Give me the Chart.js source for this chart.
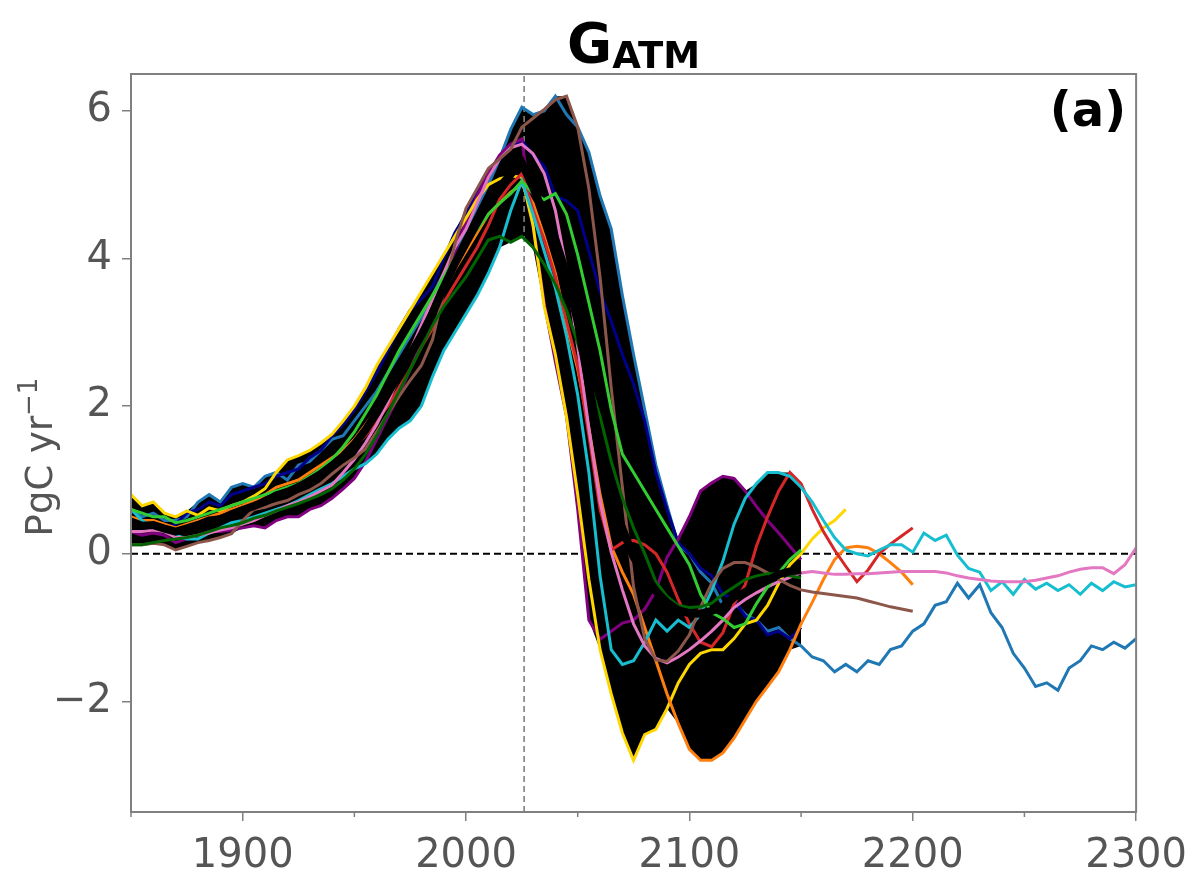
<!DOCTYPE html>
<html>
<head>
<meta charset="utf-8">
<script src="https://cdn.jsdelivr.net/npm/chart.js@4.4.1/dist/chart.umd.min.js"></script>
<style>
  html, body { margin: 0; padding: 0; background: #fff; }
  canvas { display: block; }
</style>
</head>
<body>
<canvas id="chart" width="1199" height="886"></canvas>
<script>
// years every 5 yr, 1850-2300
const years = [
  1850, 1855, 1860, 1865, 1870, 1875, 1880, 1885, 1890, 1895,
  1900, 1905, 1910, 1915, 1920, 1925, 1930, 1935, 1940, 1945,
  1950, 1955, 1960, 1965, 1970, 1975, 1980, 1985, 1990, 1995,
  2000, 2005, 2010, 2015, 2020, 2025, 2030, 2035, 2040, 2045,
  2050, 2055, 2060, 2065, 2070, 2075, 2080, 2085, 2090, 2095,
  2100, 2105, 2110, 2115, 2120, 2125, 2130, 2135, 2140, 2145,
  2150, 2155, 2160, 2165, 2170, 2175, 2180, 2185, 2190, 2195,
  2200, 2205, 2210, 2215, 2220, 2225, 2230, 2235, 2240, 2245,
  2250, 2255, 2260, 2265, 2270, 2275, 2280, 2285, 2290, 2295,
  2300
];

// PgC/yr
const blueVals = [
  0.6, 0.5, 0.55, 0.45, 0.45, 0.5, 0.7, 0.8, 0.7, 0.9,
  0.95, 0.9, 1.05, 1.1, 1.0, 1.2, 1.25, 1.4, 1.55, 1.6,
  1.8, 2.0, 2.2, 2.45, 2.7, 2.95, 3.2, 3.5, 3.8, 4.1,
  4.4, 4.7, 5.0, 5.35, 5.75, 6.05, 5.95, 6.0, 6.2, 5.95,
  5.78, 5.44, 4.85, 4.4, 3.5, 2.7, 1.95, 1.2, 0.65, 0.12,
  0.0, -0.25, -0.4, -0.7, -0.65, -0.82, -0.9, -1.05, -1.0, -1.15,
  -1.25, -1.4, -1.45, -1.6, -1.5, -1.6, -1.45, -1.5, -1.3, -1.25,
  -1.05, -0.95, -0.7, -0.65, -0.4, -0.6, -0.42, -0.8, -1.0, -1.35,
  -1.55, -1.8, -1.75, -1.85, -1.55, -1.45, -1.25, -1.3, -1.2, -1.28,
  -1.15
];
const navyVals = [
  0.45, 0.4, 0.42, 0.35, 0.4, 0.55, 0.6, 0.7, 0.65, 0.8,
  0.85, 0.9, 0.95, 1.05, 1.1, 1.15, 1.3, 1.4, 1.6, 1.75,
  1.95, 2.2, 2.45, 2.75, 3.05, 3.3, 3.45, 3.62, 4.0, 4.35,
  4.6, 4.9, 5.15, 5.35, 5.5, 5.6, 5.4, 5.25, 4.85, 4.78,
  4.65, 4.1, 3.55, 3.15, 2.7, 2.3, 1.8, 1.1, 0.6, 0.15,
  0.0, -0.2, -0.3, -0.55, -0.62, -0.85, -0.9, -1.1, -1.05, -1.15,
  -1.0
];
const purpleVals = [
  0.3, 0.25, 0.28, 0.25, 0.15, 0.2, 0.25, 0.3, 0.3, 0.32,
  0.35, 0.38, 0.35, 0.45, 0.5, 0.5, 0.6, 0.65, 0.75, 0.88,
  1.02, 1.25, 1.55, 1.85, 2.15, 2.5, 2.85, 3.25, 3.7, 4.1,
  4.5, 4.85, 5.15, 5.4, 5.55, 5.62, 4.45, 3.4, 2.6, 1.86,
  0.6, -0.9, -1.16, -1.05, -0.94, -0.9, -0.75, -0.5, -0.05, 0.2,
  0.5, 0.85, 0.96, 1.05, 1.02, 0.85, 0.64, 0.45, 0.28, 0.1,
  -0.08
];
const goldVals = [
  0.8, 0.65, 0.7, 0.55, 0.5, 0.58, 0.52, 0.62, 0.58, 0.65,
  0.7, 0.78, 0.88, 1.1, 1.27, 1.33, 1.4, 1.5, 1.62, 1.8,
  2.0, 2.25, 2.55, 2.8, 3.05, 3.3, 3.55, 3.8, 4.05, 4.3,
  4.55, 4.8, 5.0, 5.08, 5.12, 5.1, 4.45, 3.35, 2.7, 1.85,
  0.8, -0.35, -1.3, -1.9, -2.43, -2.8, -2.45, -2.38, -2.1, -1.75,
  -1.5, -1.35, -1.3, -1.3, -1.15, -0.95, -0.9, -0.7, -0.4, -0.15,
  0.0, 0.2, 0.35, 0.45, 0.6
];
const orangeVals = [
  0.5, 0.45, 0.45, 0.4, 0.35, 0.4, 0.45, 0.5, 0.55, 0.6,
  0.65, 0.72, 0.8, 0.9, 0.95, 1.0, 1.1, 1.2, 1.3, 1.4,
  1.55, 1.75, 1.95, 2.2, 2.45, 2.7, 3.0, 3.25, 3.55, 3.85,
  4.1, 4.35, 4.6, 4.75, 4.9, 5.0, 4.75, 4.3, 3.8, 3.1,
  2.5, 1.7, 0.8, 0.1, -0.25, -0.55, -1.0, -1.45, -1.9, -2.3,
  -2.65, -2.8, -2.8, -2.7, -2.5, -2.25, -2.0, -1.8, -1.6, -1.3,
  -0.95, -0.66, -0.35, -0.08, 0.08, 0.1, 0.08, 0.0, -0.12, -0.25,
  -0.42
];
const redVals = [
  0.4, 0.38, 0.4, 0.35, 0.3, 0.35, 0.42, 0.45, 0.5, 0.55,
  0.6, 0.65, 0.7, 0.78, 0.85, 0.92, 1.0, 1.1, 1.2, 1.3,
  1.45, 1.6, 1.8, 2.0, 2.25, 2.5, 2.8, 3.05, 3.4, 3.65,
  3.9, 4.15, 4.45, 4.8, 5.0, 5.15, 4.66, 4.25, 3.75, 3.15,
  2.55, 1.6, 0.6, 0.05, 0.15, 0.18, 0.12, 0.0, -0.25, -0.62,
  -0.95, -1.2, -1.26, -1.07, -0.68, -0.42, 0.1, 0.5, 0.85, 1.1,
  0.95, 0.6, 0.3, 0.05, -0.17, -0.38, -0.22, 0.0, 0.13, 0.24,
  0.35
];
const cyanVals = [
  0.6, 0.45, 0.35, 0.3, 0.25, 0.2, 0.2, 0.28, 0.35, 0.42,
  0.45, 0.5, 0.55, 0.6, 0.65, 0.72, 0.8, 0.88, 0.95, 1.05,
  1.15, 1.22, 1.35, 1.55, 1.7, 1.8, 2.0, 2.4, 2.75, 3.0,
  3.25, 3.5, 3.8, 4.15, 4.65, 5.05, 4.6, 4.1, 3.6, 2.95,
  2.15, 1.1, -0.3, -1.3, -1.5, -1.45, -1.2, -0.9, -1.05, -0.9,
  -1.0, -0.82, -0.5, -0.1, 0.4, 0.75, 0.95, 1.1, 1.1, 1.05,
  0.9, 0.7, 0.45, 0.22, 0.05, 0.0, -0.03, 0.05, 0.12, 0.12,
  0.02, 0.28, 0.18, 0.25, -0.02, -0.2, -0.25, -0.5, -0.38, -0.55,
  -0.35, -0.48, -0.4, -0.5, -0.42, -0.55, -0.4, -0.5, -0.38, -0.45,
  -0.42
];
const pinkVals = [
  0.3, 0.3, 0.32, 0.3, 0.22, 0.22, 0.25, 0.28, 0.32, 0.35,
  0.4, 0.45, 0.52, 0.58, 0.65, 0.7, 0.77, 0.85, 0.93, 1.1,
  1.28, 1.5, 1.75, 2.05, 2.4, 2.75, 3.1, 3.45, 3.8, 4.15,
  4.4, 4.75, 5.1, 5.35, 5.5, 5.55, 5.42, 5.15, 4.65, 3.85,
  2.8, 1.7, 0.7, 0.02, -0.49, -0.95, -1.25, -1.42, -1.48, -1.4,
  -1.3, -1.18, -1.05, -0.9, -0.73, -0.62, -0.53, -0.45, -0.38, -0.32,
  -0.26, -0.24, -0.26, -0.28, -0.28, -0.27, -0.27, -0.26, -0.25, -0.24,
  -0.24, -0.24, -0.24, -0.26, -0.3, -0.33, -0.35, -0.37, -0.38, -0.38,
  -0.38, -0.36, -0.33, -0.3, -0.25, -0.21, -0.19, -0.19, -0.27, -0.15,
  0.08
];
const brownVals = [
  0.12, 0.12, 0.14, 0.12, 0.05, 0.1, 0.15, 0.18, 0.22, 0.27,
  0.45, 0.6, 0.63, 0.68, 0.72, 0.8, 0.86, 0.95, 1.08, 1.2,
  1.3, 1.42, 1.65, 1.9, 2.13, 2.35, 2.55, 2.9, 3.55, 4.2,
  4.68, 4.95, 5.22, 5.35, 5.48, 5.78, 5.9, 6.02, 6.15, 6.2,
  5.78, 4.95, 3.75, 2.25, 0.9, -0.45, -1.15, -1.44, -1.46, -1.32,
  -1.1, -0.72, -0.4, -0.2, -0.12, -0.12, -0.18, -0.26, -0.35, -0.43,
  -0.49, -0.52, -0.54, -0.56, -0.58, -0.6, -0.64, -0.68, -0.72, -0.75,
  -0.78
];
const limeVals = [
  0.6, 0.55, 0.5, 0.5, 0.42, 0.45, 0.5, 0.55, 0.6, 0.65,
  0.7, 0.75, 0.8, 0.85, 0.9, 0.95, 1.05, 1.15, 1.28, 1.45,
  1.65, 1.9, 2.15, 2.45, 2.75, 3.0, 3.25, 3.5, 3.75, 4.0,
  4.2, 4.4, 4.6, 4.75, 4.88, 5.05, 4.88, 4.8, 4.88, 4.6,
  4.05, 3.4, 2.75, 1.95, 1.35, 1.1, 0.85, 0.6, 0.35, 0.1,
  -0.15, -0.55, -0.8, -0.88, -1.0, -0.95, -0.68, -0.45, -0.26, -0.08,
  0.05
];
const dkgreenVals = [
  0.12, 0.12, 0.15, 0.18, 0.2, 0.22, 0.25, 0.3, 0.35, 0.38,
  0.42, 0.48, 0.52, 0.58, 0.63, 0.68, 0.74, 0.8, 0.88, 1.0,
  1.15, 1.35, 1.6, 1.9, 2.2, 2.5, 2.8, 3.1, 3.35, 3.55,
  3.75, 4.0, 4.25, 4.3, 4.22, 4.3, 4.15, 3.92, 3.65, 3.3,
  2.85, 2.35, 1.86, 1.25, 0.75, 0.35, 0.0, -0.38, -0.58, -0.7,
  -0.73, -0.72, -0.67, -0.55, -0.45, -0.35, -0.3, -0.27, -0.27, -0.3,
  -0.33
];

const xTicks = [1900, 2000, 2100, 2200, 2300];
const xMinorTicks = [1850, 1950, 2050, 2150, 2250];
const yTicks = [-2, 0, 2, 4, 6];
const refYear = 2026;
const ensembleEnd = 2150;

const models = [
  { vals: blueVals, color: "#1f77b4" },
  { vals: navyVals, color: "#00008b" },
  { vals: purpleVals, color: "#800080" },
  { vals: goldVals, color: "#ffd700" },
  { vals: orangeVals, color: "#ff7f0e" },
  { vals: redVals, color: "#d62728" },
  { vals: cyanVals, color: "#17becf" },
  { vals: pinkVals, color: "#e377c2" },
  { vals: brownVals, color: "#8c564b" },
  { vals: limeVals, color: "#32cd32" },
  { vals: dkgreenVals, color: "#006400" }
];

function toPoints(vals) {
  return vals.map((v, i) => ({ x: years[i], y: v }));
}

// ensemble spread and mean over the common period
let upper = [], lower = [], mean = [];
for (let i = 0; years[i] <= ensembleEnd; i++) {
  let vs = models.map(m => m.vals[i]);
  upper.push({ x: years[i], y: Math.max(...vs) });
  lower.push({ x: years[i], y: Math.min(...vs) });
  mean.push({ x: years[i], y: vs.reduce((a, b) => a + b, 0) / vs.length });
}

let datasets = [
  { data: upper, borderWidth: 0, pointRadius: 0, fill: false, order: 101 },
  { data: lower, borderWidth: 0, pointRadius: 0, fill: "-1", backgroundColor: "#000000", order: 100 },
  { data: [{ x: 1850, y: 0 }, { x: 2300, y: 0 }], borderColor: "#000000", borderWidth: 2,
    borderDash: [7, 4], pointRadius: 0, order: 40 },
  { data: [{ x: refYear, y: -3.5 }, { x: refYear, y: 6.5 }], borderColor: "#808080", borderWidth: 1.6,
    borderDash: [6, 4], pointRadius: 0, order: 39 }
];
models.forEach((m, k) => {
  datasets.push({
    data: toPoints(m.vals),
    borderColor: m.color,
    borderWidth: 3,
    pointRadius: 0,
    tension: 0,
    fill: false,
    order: 30 - k
  });
});
datasets.push({ data: mean, borderColor: "#000000", borderWidth: 8, pointRadius: 0, fill: false, order: 1 });

const decor = {
  id: "decor",
  afterDraw(chart) {
    const ctx = chart.ctx;
    const a = chart.chartArea;
    const x = chart.scales.x;
    ctx.save();
    ctx.strokeStyle = "#808080";
    ctx.lineWidth = 1.5;
    xMinorTicks.forEach(v => {
      let px = x.getPixelForValue(v);
      ctx.beginPath();
      ctx.moveTo(px, a.bottom);
      ctx.lineTo(px, a.bottom + 5);
      ctx.stroke();
    });
    ctx.lineWidth = 2;
    ctx.strokeRect(a.left, a.top, a.right - a.left, a.bottom - a.top);

    // title G_ATM
    ctx.fillStyle = "#000000";
    ctx.textBaseline = "alphabetic";
    ctx.textAlign = "left";
    ctx.font = "bold 55px 'DejaVu Sans'";
    let gw = ctx.measureText("G").width;
    ctx.font = "bold 37px 'DejaVu Sans'";
    let sw = ctx.measureText("ATM").width;
    let tx = (a.left + a.right) / 2 - (gw + sw) / 2;
    ctx.font = "bold 55px 'DejaVu Sans'";
    ctx.fillText("G", tx, 62);
    ctx.font = "bold 37px 'DejaVu Sans'";
    ctx.fillText("ATM", tx + gw, 68);

    // panel label
    ctx.font = "bold 48px 'DejaVu Sans'";
    ctx.textAlign = "right";
    ctx.fillText("(a)", a.right - 10, 126);

    // y label with superscript
    ctx.fillStyle = "#555555";
    ctx.translate(52, 457);
    ctx.rotate(-Math.PI / 2);
    ctx.font = "37px 'DejaVu Sans'";
    let mw = ctx.measureText("PgC yr").width;
    ctx.font = "26px 'DejaVu Sans'";
    let ew = ctx.measureText("\u22121").width;
    let lx = -(mw + ew) / 2;
    ctx.textAlign = "left";
    ctx.font = "37px 'DejaVu Sans'";
    ctx.fillText("PgC yr", lx, 0);
    ctx.font = "26px 'DejaVu Sans'";
    ctx.fillText("\u22121", lx + mw, -15);
    ctx.restore();
  }
};

Chart.defaults.font.family = "'DejaVu Sans'";

new Chart(document.getElementById("chart"), {
  type: "line",
  data: { datasets: datasets },
  options: {
    responsive: false,
    animation: false,
    devicePixelRatio: 1,
    layout: { padding: { top: 74, right: 62, left: 0, bottom: 0 } },
    plugins: { legend: { display: false }, tooltip: { enabled: false } },
    scales: {
      x: {
        type: "linear",
        min: 1850,
        max: 2300,
        afterBuildTicks: s => { s.ticks = xTicks.map(v => ({ value: v })); },
        afterFit: s => { s.height = 74; },
        grid: { drawOnChartArea: false, tickLength: 9, color: "#808080", lineWidth: 1.5 },
        border: { display: false },
        ticks: { font: { size: 40 }, color: "#555555", padding: 12, maxRotation: 0, autoSkip: false,
          callback: v => String(v) }
      },
      y: {
        min: -3.5,
        max: 6.5,
        afterBuildTicks: s => { s.ticks = yTicks.map(v => ({ value: v })); },
        afterFit: s => { s.width = 131; },
        grid: { drawOnChartArea: false, tickLength: 9, color: "#808080", lineWidth: 1.5 },
        border: { display: false },
        ticks: { font: { size: 40 }, color: "#555555", padding: 10,
          callback: v => (v < 0 ? "\u2212" + Math.abs(v) : String(v)) }
      }
    }
  },
  plugins: [decor]
});
</script>
</body>
</html>
